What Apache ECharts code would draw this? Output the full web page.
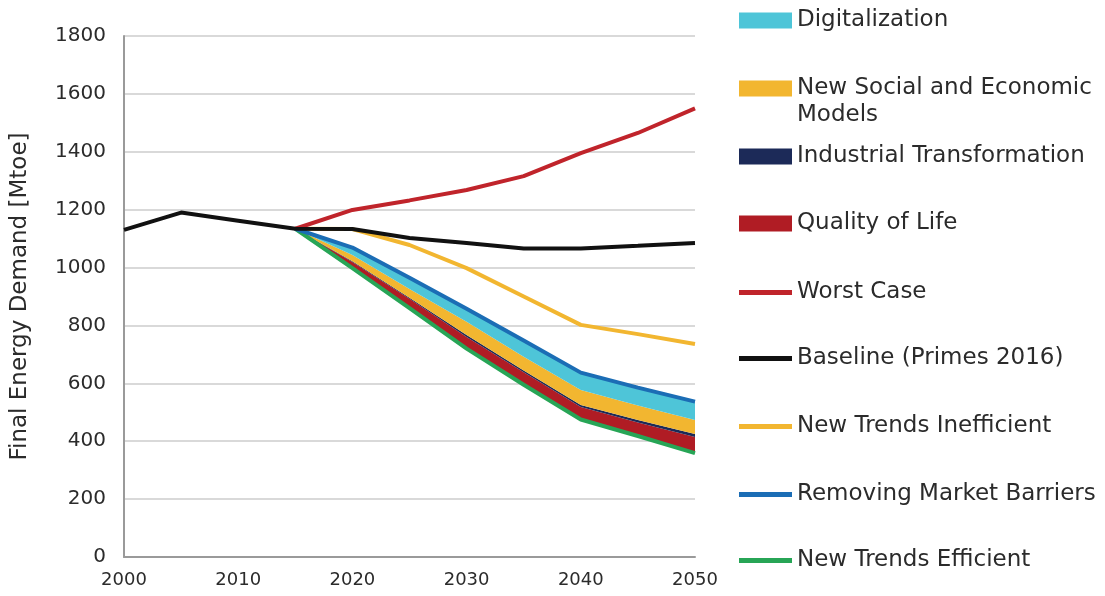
<!DOCTYPE html>
<html>
<head>
<meta charset="utf-8">
<script src="https://cdn.jsdelivr.net/npm/echarts@6/dist/echarts.min.js"></script>
<style>
  html, body { margin: 0; padding: 0; background: #fff; }
  #chart { width: 1105px; height: 596px; }
</style>
</head>
<body>
<div id="chart"></div>
<script>
// every 5 years, 2000 - 2050
const years = ['2000', '2005', '2010', '2015', '2020', '2025', '2030', '2035', '2040', '2045', '2050'];
const baseline = [1130, 1190, 1162, 1134, 1133, 1102, 1085, 1066, 1066, 1075, 1085];

// scenarios start at 2015
const worstCase = [1134, 1199, 1232, 1268, 1316, 1395, 1465, 1550];
const ntInefficient = [1134, 1133, 1078, 998, 900, 802, 770, 736];
const removingBarriers = [1134, 1069, 965, 858, 748, 637, 585, 537];
const ntEfficient = [1134, 998, 860, 720, 595, 475, 418, 359];

// upper edges of the measure bands (stacked between green and blue)
const qolTop = [1134, 1019, 892, 760, 638, 518, 465, 415];
const industryTop = [1134, 1022, 896, 767, 644, 525, 473, 425];
const socialTop = [1134, 1043, 926, 813, 692, 577, 523, 473];

const lead = years.length - ntEfficient.length;
const pad = arr => new Array(lead).fill(null).concat(arr);
const diff = (hi, lo) => pad(hi.map((v, i) => v - lo[i]));

const txt = '#2b2b2b';
const font = 'DejaVu Sans';

const chart = echarts.init(document.getElementById('chart'));

const band = (name, color, data) => ({
  name, type: 'line', stack: 'measures', data,
  symbol: 'none', color,
  lineStyle: { width: 0 },
  areaStyle: { color, opacity: 1 },
  z: 2
});
const line = (name, color, data, z) => ({
  name, type: 'line', data, symbol: 'none', color,
  lineStyle: { width: 4, color },
  z: z || 3
});

// one legend per entry so each row can sit where the original puts it
const legendRows = [
  { name: 'Digitalization', top: 7, h: 16 },
  { name: 'New Social and Economic Models', top: 48, h: 16 },
  { name: 'Industrial Transformation', top: 143, h: 16 },
  { name: 'Quality of Life', top: 210, h: 16 },
  { name: 'Worst Case', top: 279, h: 5 },
  { name: 'Baseline (Primes 2016)', top: 345, h: 5 },
  { name: 'New Trends Inefficient', top: 413, h: 5 },
  { name: 'Removing Market Barriers', top: 481, h: 5 },
  { name: 'New Trends Efficient', top: 547, h: 5 }
];

const legends = legendRows.map(r => ({
  left: 739, top: r.top, orient: 'vertical', padding: 0,
  itemWidth: 53, itemHeight: r.h, icon: 'rect',
  selectedMode: false,
  textStyle: { fontFamily: font, fontSize: 23, color: txt, lineHeight: 27 },
  // blank first line keeps the icon level with the first line of text
  formatter: n => n === 'New Social and Economic Models' ? '\nNew Social and Economic\nModels' : n,
  data: [r.name]
}));

chart.setOption({
  animation: false,
  legend: legends,
  grid: { left: 124, right: 410, top: 36, bottom: 39, outerBoundsMode: 'none' },
  xAxis: {
    type: 'category', data: years, boundaryGap: false,
    axisLine: { show: true, lineStyle: { color: '#9a9a9a', width: 2 } },
    axisTick: { show: false },
    splitLine: { show: false },
    axisLabel: { interval: 1, fontFamily: font, fontSize: 18, color: txt, margin: 14 }
  },
  yAxis: {
    type: 'value', min: 0, max: 1800, interval: 200,
    name: 'Final Energy Demand [Mtoe]', nameLocation: 'middle', nameGap: 92,
    nameTextStyle: { fontFamily: font, fontSize: 23, color: txt },
    axisLine: { show: true, lineStyle: { color: '#9a9a9a', width: 2 } },
    axisTick: { show: false },
    splitLine: { lineStyle: { color: '#d9d9d9', width: 2 } },
    axisLabel: { fontFamily: font, fontSize: 20, color: txt, margin: 18, formatter: v => String(v) }
  },
  series: [
    Object.assign(line('New Trends Efficient', '#27a556', pad(ntEfficient), 4), { stack: 'measures' }),
    band('Quality of Life', '#b01c24', diff(qolTop, ntEfficient)),
    band('Industrial Transformation', '#1c2a58', diff(industryTop, qolTop)),
    band('New Social and Economic Models', '#f2b630', diff(socialTop, industryTop)),
    band('Digitalization', '#4ec5d8', diff(removingBarriers, socialTop)),
    line('Removing Market Barriers', '#1b6db5', pad(removingBarriers), 4),
    line('New Trends Inefficient', '#f2b630', pad(ntInefficient)),
    line('Worst Case', '#c0242b', pad(worstCase)),
    line('Baseline (Primes 2016)', '#111111', baseline, 5)
  ]
});
</script>
</body>
</html>
